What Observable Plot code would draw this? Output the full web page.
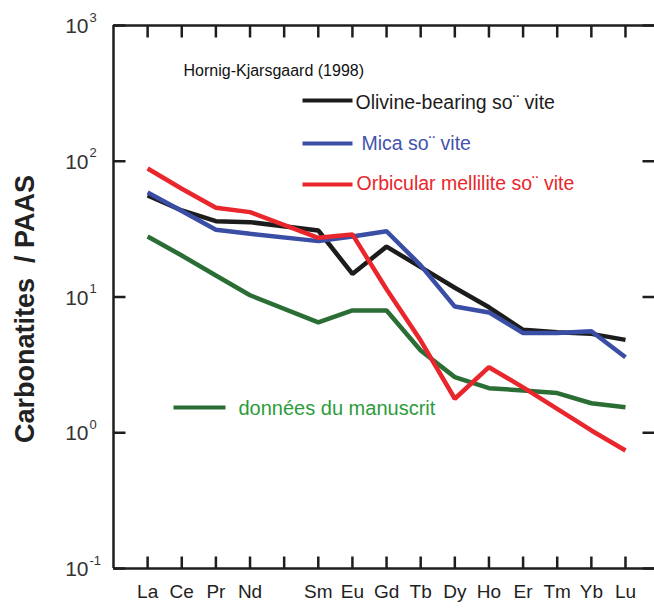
<!DOCTYPE html>
<html><head><meta charset="utf-8">
<script src="https://cdn.jsdelivr.net/npm/d3@7"></script>
<script src="https://cdn.jsdelivr.net/npm/@observablehq/plot@0.6"></script>
<style>body{margin:0;background:#fff}</style>
</head><body><div id="chart"></div>
<script>
// Rare earth elements (Pm has no data, but keeps its slot/tick)
const elements = ["La","Ce","Pr","Nd","Pm","Sm","Eu","Gd","Tb","Dy","Ho","Er","Tm","Yb","Lu"];
const xLabels  = ["La","Ce","Pr","Nd","","Sm","Eu","Gd","Tb","Dy","Ho","Er","Tm","Yb","Lu"];

const olivine   = [56, 43.4, 36.2, 35.6, null, 30.9, 14.8, 23.5, 16.6, 11.7, 8.4, 5.73, 5.5, 5.35, 4.83];
const mica      = [59, 43.0, 31.3, 29.2, null, 25.8, 27.9, 30.5, 17.1, 8.5, 7.7, 5.42, 5.42, 5.6, 3.6];
const orbicular = [88.5, 62.7, 45.4, 42.2, null, 27.3, 28.9, 11.4, 4.78, 1.78, 3.04, 2.16, 1.5, 1.04, 0.74];
const manuscrit = [27.9, 20.2, 14.4, 10.3, null, 6.5, 7.96, 7.96, 4.04, 2.57, 2.13, 2.05, 1.96, 1.65, 1.54];

const seriesNames = ["Olivine-bearing so\u00A8 vite", "Mica so\u00A8 vite", "Orbicular mellilite so\u00A8 vite", "données du manuscrit"];
const refLabel = "Hornig-Kjarsgaard (1998)";

const yTicks = [0.1, 1, 10, 100, 1000];
const yExponents = ["-1", "0", "1", "2", "3"];
const yTitle = "Carbonatites  / PAAS";

const colors = {black:"#1c1c1c", blue:"#3a4ea6", red:"#e8262c", green:"#2b6e35"};
const textColors = {black:"#1c1c1c", blue:"#4354ad", red:"#e8262c", green:"#2c9c3a"};
const axisColor = "#1e1e1e";
const font = "Liberation Sans, Arial, Helvetica, sans-serif";

const W = 654, H = 610, ML = 113, MR = 0, MT = 25, MB = 42;
const frameW = W - ML - MR, frameH = H - MT - MB, tickLen = 12;
const xDomain = [0, 15.85];
const yDomain = [0.1, 1000];

// convert a pixel offset inside the frame into scale units (for ticks/legend annotations)
const xPerPx = (xDomain[1] - xDomain[0]) / frameW;
const decadesPerPx = Math.log10(yDomain[1] / yDomain[0]) / frameH;
const fx = px => xDomain[0] + px * xPerPx;                     // px from frame left
const fy = px => yDomain[1] / Math.pow(10, px * decadesPerPx); // px from frame top

function rows(values) {
  return values.map((v, i) => ({el: elements[i], i: i + 1, v})).filter(d => d.v != null);
}
const xIdx = (d, i) => i + 1;

// tick combs: one path per side, broken into segments by undefined points
const bottomTicks = elements.flatMap((e, i) => [
  {x: i + 1, y: yDomain[0]}, {x: i + 1, y: fy(frameH - tickLen)}, {x: i + 1, y: NaN}]);
const topTicks = elements.flatMap((e, i) => [
  {x: i + 1, y: yDomain[1]}, {x: i + 1, y: fy(tickLen)}, {x: i + 1, y: NaN}]);
const leftTicks = yTicks.flatMap(v => [
  {x: xDomain[0], y: v}, {x: fx(tickLen), y: v}, {x: NaN, y: v}]);
const rightTicks = yTicks.flatMap(v => [
  {x: fx(frameW - tickLen), y: v}, {x: xDomain[1], y: v}, {x: NaN, y: v}]);

const lineOpts = {x: "i", y: "v", strokeWidth: 4.5, strokeLinejoin: "miter", strokeLinecap: "butt"};
const tickOpts = {x: "x", y: "y", stroke: axisColor, strokeWidth: 2.5, strokeLinecap: "butt"};

const label = (txt, dx, dy, color, size) =>
  Plot.text([txt], {frameAnchor: "top-left", dx, dy, text: d => d, textAnchor: "start",
    lineAnchor: "middle", fill: color, fontSize: size});
const swatch = (left, len, top, color) =>
  Plot.link([0], {x1: () => fx(left), x2: () => fx(left + len), y1: () => fy(top), y2: () => fy(top),
    stroke: color, strokeWidth: 4});

const chart = Plot.plot({
  width: W, height: H,
  marginLeft: ML, marginRight: MR, marginTop: MT, marginBottom: MB,
  style: {fontFamily: font, background: "white", overflow: "visible"},
  x: {domain: xDomain, axis: null},
  y: {type: "log", domain: yDomain, axis: null},
  marks: [
    // frame lines
    Plot.ruleX([xDomain[0]], {stroke: axisColor, strokeWidth: 2.5}),
    Plot.ruleY([yDomain[0]], {stroke: axisColor, strokeWidth: 2.5}),
    Plot.ruleY([yDomain[1]], {stroke: axisColor, strokeWidth: 2.5}),
    // inward ticks
    Plot.line(bottomTicks, tickOpts),
    Plot.line(topTicks, tickOpts),
    Plot.line(leftTicks, tickOpts),
    Plot.line(rightTicks, tickOpts),
    // y tick labels 10^n
    Plot.text(yTicks, {y: d => d, frameAnchor: "left", text: () => "10", textAnchor: "end", dx: -25, dy: 1, fontSize: 21, fill: "#333"}),
    Plot.text(yTicks, {y: d => d, frameAnchor: "left", text: (d, i) => yExponents[i], textAnchor: "start", dx: -24, dy: -8, fontSize: 13, fill: "#333"}),
    // x labels
    Plot.text(elements, {x: xIdx, frameAnchor: "bottom", text: (d, i) => xLabels[i], dy: 29, fontSize: 19, fill: "#222"}),
    // y title
    Plot.text([yTitle], {frameAnchor: "left", text: d => d, rotate: -90, textAnchor: "middle", dx: -88, dy: 12, fontSize: 27, fontWeight: "bold", fill: "#222"}),
    // data lines
    Plot.line(rows(olivine), {...lineOpts, stroke: colors.black}),
    Plot.line(rows(mica), {...lineOpts, stroke: colors.blue}),
    Plot.line(rows(manuscrit), {...lineOpts, stroke: colors.green}),
    Plot.line(rows(orbicular), {...lineOpts, stroke: colors.red}),
    // legend
    label(refLabel, 70, 45, "#111", 16),
    swatch(189, 50, 75, colors.black), label(seriesNames[0], 242, 77, textColors.black, 19.5),
    swatch(189, 50, 118, colors.blue),  label(seriesNames[1], 248, 118, textColors.blue, 19.5),
    swatch(189, 50, 159, colors.red),   label(seriesNames[2], 243, 158, textColors.red, 19.5),
    swatch(60, 52, 382, colors.green),  label(seriesNames[3], 125, 383, textColors.green, 20)
  ]
});
document.getElementById("chart").appendChild(chart);
</script>
</body></html>
